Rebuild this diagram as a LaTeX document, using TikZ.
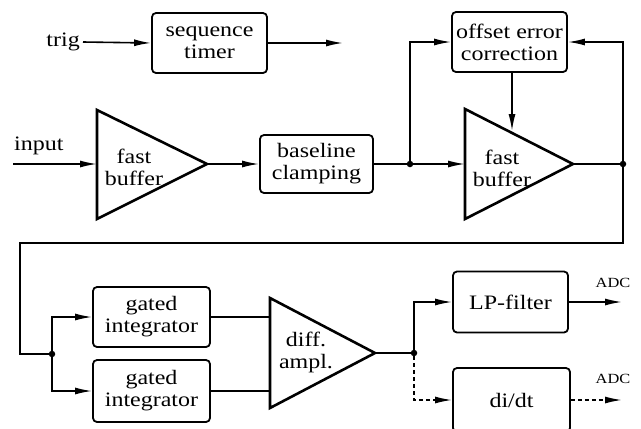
\documentclass[tikz,border=0pt]{standalone}
\usepackage{fontspec}
\setmainfont[FakeStretch=1.17]{Liberation Serif}
\usetikzlibrary{arrows.meta,calc}
\begin{document}
\begin{tikzpicture}[x=1pt,y=-1pt,
  txt/.style={font=\fontsize{20.5}{22}\selectfont, align=center, inner sep=0pt},
  box/.style={txt, draw, line width=1.8pt, rounded corners=4pt, minimum width=115pt, minimum height=60pt},
  amp/.style={draw, line width=2.6pt, line join=miter},
  wire/.style={line width=1.6pt},
  arr/.style={wire, -{Latex[length=17pt,width=7pt]}},
  dsh/.style={dash pattern=on 4pt off 3pt},
  adc/.style={font=\fontsize{14}{15}\selectfont, inner sep=0pt},
  dot/.style={circle, fill, inner sep=0pt, minimum size=6.5pt}]
\clip (0,0) rectangle (641,429);
\fill[white] (0,0) rectangle (641,429);

% boxes
\node[box] (seq) at (209.5,43) {sequence\\timer};
\node[box] (oec) at (509.5,42) {offset error\\correction};
\node[box, minimum width=113pt, minimum height=58pt] (bc) at (316.5,164) {baseline\\clamping};
\node[box, minimum width=117pt] (g1) at (151.5,317) {gated\\integrator};
\node[box, minimum width=117pt, minimum height=62pt] (g2) at (151.5,391) {gated\\integrator};
\node[box, minimum height=61pt] (lp) at (510.5,302) {LP-filter};
\node[box, minimum width=117pt, minimum height=64pt] (dd) at (511.5,400) {di/dt};

% amplifiers
\coordinate (fa1) at (97,110);
\coordinate (fa1b) at (97,219);
\coordinate (fa1t) at (207,164);
\draw[amp] (fa1) -- (fa1t) -- (fa1b) -- cycle;
\node[txt] (fb1) at (134,167) {fast\\buffer};

\coordinate (fa2) at (465,109);
\coordinate (fa2b) at (465,219);
\coordinate (fa2t) at (573,164);
\draw[amp] (fa2) -- (fa2t) -- (fa2b) -- cycle;
\node[txt] (fb2) at (502,168) {fast\\buffer};

\coordinate (da) at (270,298);
\coordinate (dab) at (270,408);
\coordinate (dat) at (375,353);
\draw[amp] (da) -- (dat) -- (dab) -- cycle;
\node[txt] (dtx) at (306,352) {diff.\\ampl.};

% labels
\node[txt, anchor=east] (trig) at (80,42) {trig};
\node[txt, anchor=south west] (inlbl) at (14,155) {input};
\node[adc] (adc1) at (613,283) {ADC};
\node[adc] (adc2) at (613,379) {ADC};

% coordinates
\coordinate (seqout) at (343,43);
\coordinate (inp) at (13,164);
\coordinate (fb1in) at (97,164);
\coordinate (fb2in) at (465,164);
\coordinate (fb2top) at (512,131);
\coordinate (c1) at (623,243);
\coordinate (c2) at (20,243);
\coordinate (c3) at (20,354);
\coordinate (da1) at (270,317);
\coordinate (da2) at (270,391);
\coordinate (o1) at (622,302);
\coordinate (o2) at (622,400);

% junctions
\node[dot] (j1) at (410,164) {};
\node[dot] (j2) at (623,164) {};
\node[dot] (j3) at (52,354) {};
\node[dot] (j4) at (414,353) {};

% connectors
\draw[arr] (trig.east) ++(3,0) -- (seq.west);
\draw[arr] (seq.east) -- (seqout);
\draw[arr] (inp) -- (fb1in);
\draw[arr] (fa1t) -- (bc.west);
\draw[wire] (bc.east) -- (j1);
\draw[arr] (j1) -- (fb2in);
\draw[arr] (j1) |- (oec.west);
\draw[arr] (oec.south -| fb2top) -- (fb2top);
\draw[wire] (fa2t) -- (j2);
\draw[arr] (j2) |- (oec.east);
\draw[wire] (j2) -- (c1) -- (c2) -- (c3) -- (j3);
\draw[arr] (j3) |- (g1.west);
\draw[arr] (j3) |- (g2.west);
\draw[wire] (g1.east) -- (da1);
\draw[wire] (g2.east) -- (da2);
\draw[wire] (dat) -- (j4);
\draw[arr] (j4) |- (lp.west);
\draw[arr, dsh] (j4) |- (dd.west);
\draw[arr] (lp.east) -- (o1);
\draw[arr, dsh] (dd.east) -- (o2);
\end{tikzpicture}
\end{document}
